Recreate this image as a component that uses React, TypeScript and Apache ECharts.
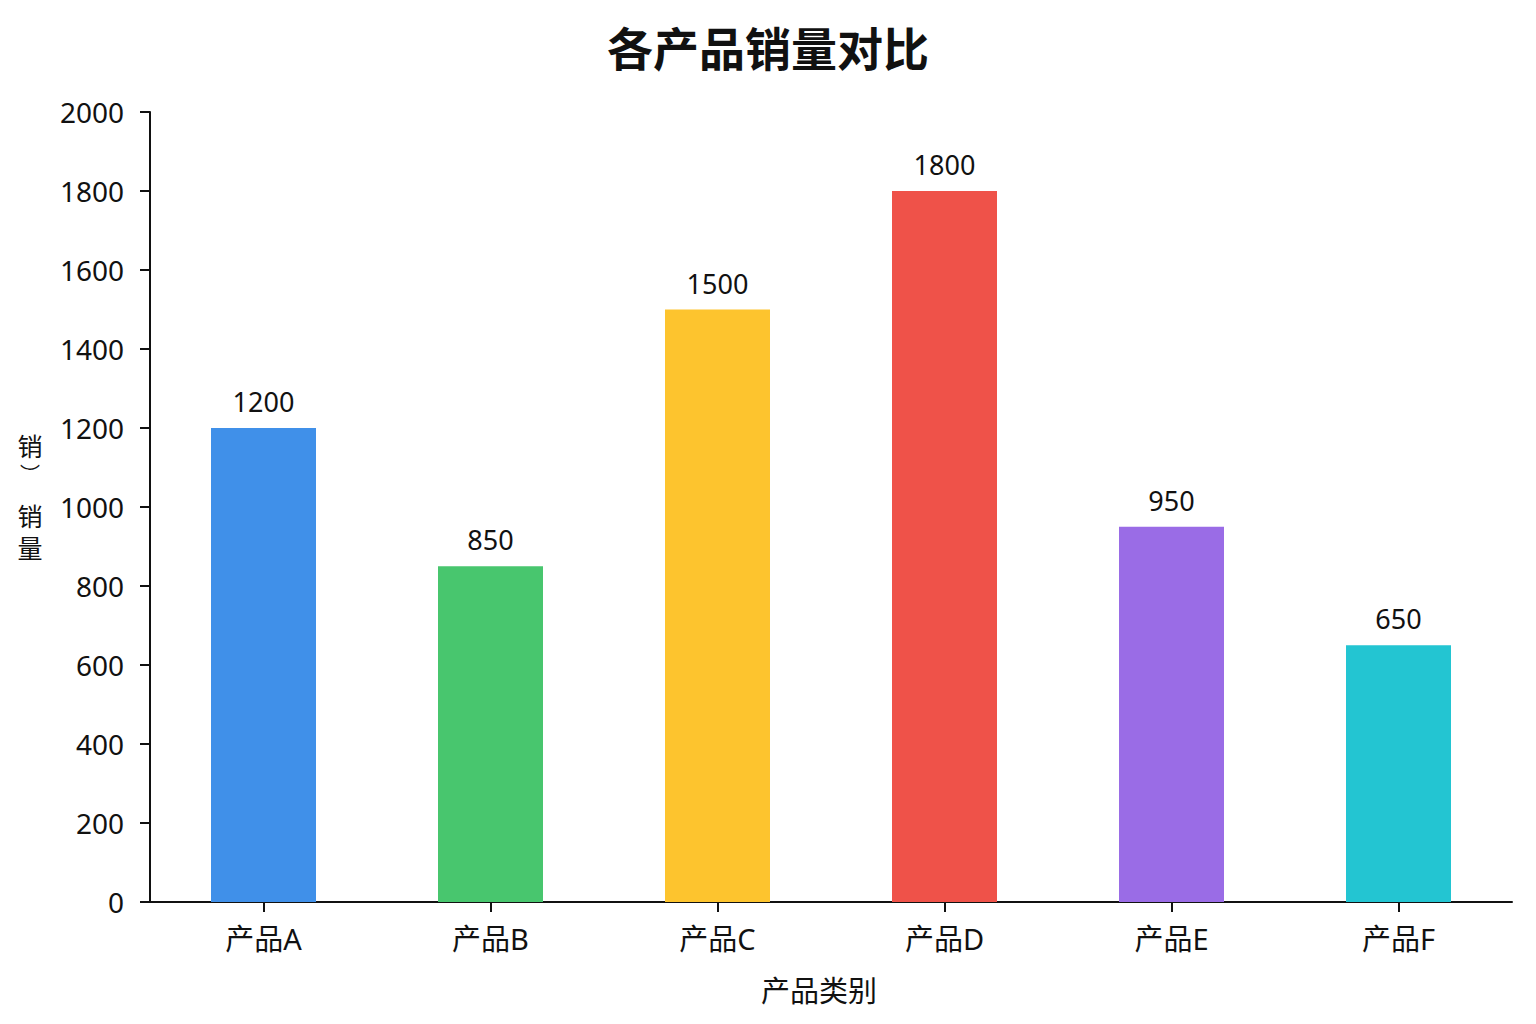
import React, { useEffect, useRef } from "react";
import * as echarts from "echarts";

const categories = ["产品A", "产品B", "产品C", "产品D", "产品E", "产品F"];
const salesValues = [1200, 850, 1500, 1800, 950, 650];
const barColors = ["#4090e9", "#48c66e", "#fdc42e", "#ef5249", "#9a6ce6", "#23c5d2"];
const yTicks = { min: 0, max: 2000, interval: 200 };

const FONT = '"Noto Sans", "Noto Sans CJK SC", sans-serif';

export default function App() {
  const ref = useRef<HTMLDivElement>(null);
  useEffect(() => {
    document.body.style.margin = "0";
    const chart = echarts.init(ref.current!, null, { renderer: "svg" });
    chart.setOption({
      animation: false,
      backgroundColor: "#ffffff",
      textStyle: { fontFamily: FONT },
      title: {
        text: "各产品销量对比",
        left: "center",
        top: 20,
        textStyle: { fontSize: 46, fontWeight: "bold", color: "#111", fontFamily: FONT },
      },
      grid: { left: 150, right: 24, top: 112, bottom: 122, containLabel: false },
      xAxis: {
        type: "category",
        data: categories,
        name: "产品类别",
        nameLocation: "middle",
        nameGap: 74,
        nameTextStyle: { fontSize: 29, color: "#111", fontFamily: FONT, padding: [0, 24, 0, 0] },
        axisLine: { show: true, lineStyle: { color: "#111", width: 2 } },
        axisTick: { show: true, alignWithLabel: true, length: 10, lineStyle: { color: "#111", width: 2 } },
        axisLabel: { fontSize: 29, color: "#111", margin: 22, fontFamily: FONT },
        splitLine: { show: false },
      },
      yAxis: {
        type: "value",
        min: yTicks.min,
        max: yTicks.max,
        interval: yTicks.interval,
        axisLine: { show: true, lineStyle: { color: "#111", width: 2 } },
        axisTick: { show: true, length: 10, lineStyle: { color: "#111", width: 2 } },
        axisLabel: { fontSize: 28, color: "#111", margin: 26, fontFamily: FONT, formatter: (v: number) => String(v) },
        splitLine: { show: false },
      },
      graphic: [
        { type: "text", x: 30, y: 446, style: { text: "销", fontSize: 25, fill: "#111", textAlign: "center", textVerticalAlign: "middle", fontFamily: FONT } },
        { type: "text", x: 30, y: 474, style: { text: "︶", fontSize: 20, fill: "#111", textAlign: "center", textVerticalAlign: "middle", fontFamily: FONT } },
        { type: "text", x: 30, y: 516, style: { text: "销", fontSize: 25, fill: "#111", textAlign: "center", textVerticalAlign: "middle", fontFamily: FONT } },
        { type: "text", x: 30, y: 548, style: { text: "量", fontSize: 25, fill: "#111", textAlign: "center", textVerticalAlign: "middle", fontFamily: FONT } },
      ],
      series: [
        {
          type: "bar",
          barWidth: 105,
          data: salesValues.map((v, i) => ({ value: v, itemStyle: { color: barColors[i] } })),
          label: {
            show: true,
            position: "top",
            distance: 13,
            fontSize: 27,
            color: "#111",
            fontFamily: FONT,
          },
        },
      ],
    });
    return () => chart.dispose();
  }, []);
  return <div ref={ref} style={{ width: 1536, height: 1024 }} />;
}
